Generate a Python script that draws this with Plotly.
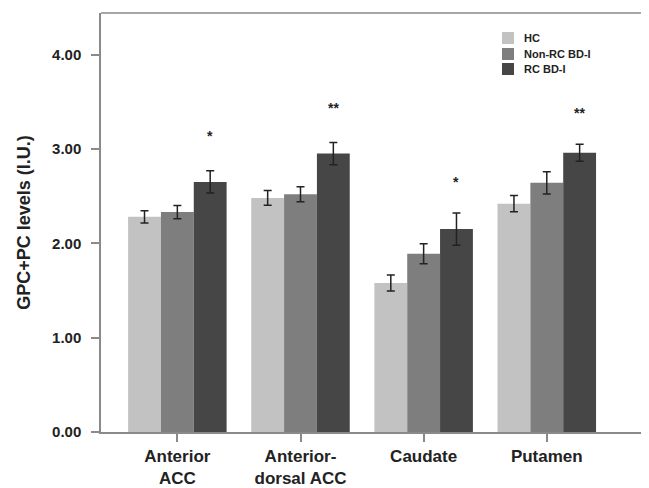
import plotly.graph_objects as go

categories = ["Anterior<br>ACC", "Anterior-<br>dorsal ACC", "Caudate", "Putamen"]
series_names = ["HC", "Non-RC BD-I", "RC BD-I"]
hc = [2.28, 2.48, 1.58, 2.42]
hc_err = [0.065, 0.078, 0.085, 0.085]
nonrc = [2.33, 2.52, 1.89, 2.64]
nonrc_err = [0.07, 0.08, 0.106, 0.117]
rc = [2.65, 2.95, 2.15, 2.96]
rc_err = [0.118, 0.118, 0.17, 0.09]
sig_marks = ["*", "**", "*", "**"]
sig_levels = [3.17, 3.47, 2.68, 3.41]
y_ticks = [0, 1, 2, 3, 4]
y_tick_labels = ["0.00", "1.00", "2.00", "3.00", "4.00"]

colors = ["#c2c2c2", "#7e7e7e", "#464646"]
font_family = "Liberation Sans, Arial, sans-serif"
axis_col = "#8a8a8a"

# figure is sized to compensate for the 8px page body margin
W, H = 641, 480
ML, MR, MT, MB = 93, 0, 5, 56
PW, PH = W - ML - MR, H - MT - MB

def px_x(p):
    return (p - ML) / PW

def px_y(p):
    return (H - MB - p) / PH

fig = go.Figure()
for name, vals, errs, col in zip(series_names, [hc, nonrc, rc], [hc_err, nonrc_err, rc_err], colors):
    fig.add_trace(go.Bar(
        name=name, x=list(range(len(categories))), y=vals,
        marker=dict(color=col, line=dict(width=0)),
        error_y=dict(type="data", array=errs, visible=True, color="#222222", thickness=1.5, width=4),
        showlegend=False,
    ))

offset = 0.8 / 3
for i, (m, lvl) in enumerate(zip(sig_marks, sig_levels)):
    fig.add_annotation(x=i + offset, y=lvl, text="<b>" + m + "</b>", showarrow=False,
                       xref="x", yref="y", yanchor="middle", yshift=-3,
                       font=dict(size=14, color="#222", family=font_family))

# top frame line
fig.add_shape(type="line", xref="paper", yref="paper", x0=0, x1=1.02, y0=1, y1=1,
              line=dict(color=axis_col, width=1.5))

# legend (squares + labels)
legend_rows = [30, 46, 61]
for name, col, row in zip(series_names, colors, legend_rows):
    fig.add_shape(type="rect", xref="paper", yref="paper",
                  x0=px_x(494), x1=px_x(506), y0=px_y(row + 6), y1=px_y(row - 6),
                  fillcolor=col, line=dict(width=0))
    fig.add_annotation(x=px_x(514), y=px_y(row), xref="paper", yref="paper",
                       text="<b>" + name + "</b>", showarrow=False,
                       xanchor="left", yanchor="middle",
                       font=dict(size=11, color="#222", family=font_family))

fig.update_layout(
    width=W, height=H,
    margin=dict(l=ML, r=MR, t=MT, b=MB, autoexpand=False),
    paper_bgcolor="white", plot_bgcolor="white",
    barmode="group", bargap=0.2, bargroupgap=0,
    font=dict(family=font_family, color="#222"),
    showlegend=False,
    xaxis=dict(range=[-0.62, 3.83], tickmode="array", tickvals=list(range(len(categories))),
               ticktext=["<b>" + c + "</b>" for c in categories],
               showline=True, linecolor=axis_col, linewidth=1.5,
               ticks="outside", ticklen=8, tickcolor=axis_col, tickwidth=1.5,
               tickfont=dict(size=17, color="#222"), showgrid=False, zeroline=False,
               automargin=False),
    yaxis=dict(range=[0, 4.44], tickmode="array", tickvals=y_ticks,
               ticktext=["<b>" + t + "</b>" for t in y_tick_labels],
               showline=True, linecolor=axis_col, linewidth=1.5,
               ticks="outside", ticklen=8, tickcolor=axis_col, tickwidth=1.5,
               ticklabelstandoff=7,
               tickfont=dict(size=15, color="#222"), showgrid=False, zeroline=False,
               automargin=False,
               title=dict(text="<b>GPC+PC levels (I.U.)</b>", font=dict(size=18, color="#222"), standoff=17)),
)

fig.write_html("out.html")
